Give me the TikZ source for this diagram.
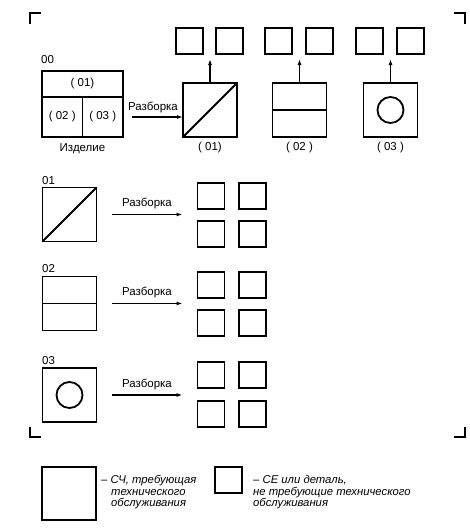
\documentclass[tikz,border=0pt]{standalone}
\usepackage{fontspec}
\setmainfont{Liberation Sans}
\usetikzlibrary{arrows.meta,positioning}

\tikzset{
  unit/.style={draw, line width=1.8pt, minimum size=54pt, inner sep=0pt, outer sep=0pt},
  part/.style={draw, line width=1.8pt, minimum width=27pt, minimum height=26pt, inner sep=0pt, outer sep=0pt},
  cell/.style={draw, line width=1.8pt, inner sep=0pt, outer sep=0pt, font=\fontsize{11.5}{13}\selectfont},
  txt/.style={font=\fontsize{11.5}{13}\selectfont, inner sep=0pt},
  note/.style={font=\itshape\fontsize{11.3}{11.5}\selectfont, inner sep=0pt, align=left, anchor=west},
  arr/.style={-{Latex[length=6pt,width=4pt]}, line width=1.2pt},
  crop/.style={line width=1.4pt}
}

\begin{document}
\begin{tikzpicture}[x=1pt, y=-1pt]
  \useasboundingbox (0,0) rectangle (469,530);

  % Crop marks
  \draw[crop] (30,24) -- (30,13) -- (41,13);
  \draw[crop] (454,13) -- (465,13) -- (465,24);
  \draw[crop] (30,427) -- (30,437) -- (41,437);
  \draw[crop] (454,437) -- (465,437) -- (465,427);

  % Product 00
  \node[txt, anchor=west] (n00) at (41,60) {00};
  \node[cell, minimum width=81pt, minimum height=26pt] (c01) at (82.5,84) {( 01)};
  \node[cell, minimum width=40.5pt, minimum height=40pt] (c02) at (62.25,117) {( 02 )};
  \node[cell, minimum width=40.5pt, minimum height=40pt] (c03) at (102.75,117) {( 03 )};
  \node[txt, below=6pt of c02.south east] (prod) {Изделие};

  % Units of the product
  \node[unit] (u01) at (210,110) {};
  \node[unit] (u02) at (299.5,110) {};
  \node[unit] (u03) at (390.5,110) {};
  \draw[line width=2pt] (u01.south west) -- (u01.north east);
  \draw[line width=1.8pt] (u02.west) -- (u02.east);
  \draw[line width=1.8pt] (u03.center) circle (13pt);
  \node[txt, below=5pt of u01] (l01) {( 01)};
  \node[txt, below=5pt of u02] (l02) {( 02 )};
  \node[txt, below=5pt of u03] (l03) {( 03 )};

  % Disassembly of the product
  \draw[arr, shorten <=9pt] (c03.east) -- (c03.east -| u01.west)
    node[txt, midway, above=4pt] {Разборка};

  % Parts above the units
  \node[part] (t1a) at (189.5,41) {};
  \node[part] (t1b) at (229.5,41) {};
  \node[part] (t2a) at (278.5,41) {};
  \node[part] (t2b) at (319.5,41) {};
  \node[part] (t3a) at (369.5,41) {};
  \node[part] (t3b) at (410.5,41) {};
  \draw[arr, shorten >=5pt] (u01.north) -- (u01.north |- t1a.south);
  \draw[arr, shorten >=5pt] (u02.north) -- (u02.north |- t2a.south);
  \draw[arr, shorten >=5pt] (u03.north) -- (u03.north |- t3a.south);

  % Disassembly of unit 01
  \node[txt, anchor=west] (n01) at (42,181) {01};
  \node[unit] (d01) at (69.5,214.5) {};
  \draw[line width=2pt] (d01.south west) -- (d01.north east);
  \node[part] (g1a) at (211,196) {};
  \node[part] (g1b) at (252.5,196) {};
  \node[part] (g1c) at (211,234) {};
  \node[part] (g1d) at (252.5,234) {};
  \draw[arr, shorten <=15pt, shorten >=15pt] (d01.east) -- (d01.east -| g1a.west)
    node[txt, midway, above=5pt] {Разборка};

  % Disassembly of unit 02
  \node[txt, anchor=west] (n02) at (42,269) {02};
  \node[unit] (d02) at (69.5,303.5) {};
  \draw[line width=1.8pt] (d02.west) -- (d02.east);
  \node[part] (g2a) at (211,285) {};
  \node[part] (g2b) at (252.5,285) {};
  \node[part] (g2c) at (211,323) {};
  \node[part] (g2d) at (252.5,323) {};
  \draw[arr, shorten <=15pt, shorten >=15pt] (d02.east) -- (d02.east -| g2a.west)
    node[txt, midway, above=5pt] {Разборка};

  % Disassembly of unit 03
  \node[txt, anchor=west] (n03) at (42,361) {03};
  \node[unit] (d03) at (69.5,395) {};
  \draw[line width=1.8pt] (d03.center) circle (13pt);
  \node[part] (g3a) at (211,375) {};
  \node[part] (g3b) at (252.5,375) {};
  \node[part] (g3c) at (211,414) {};
  \node[part] (g3d) at (252.5,414) {};
  \draw[arr, shorten <=15pt, shorten >=15pt] (d03.east) -- (d03.east -| g3a.west)
    node[txt, midway, above=5pt] {Разборка};

  % Legend
  \node[unit, minimum height=53pt] (keyunit) at (69,493.5) {};
  \node[note] (keyunittxt) at (101,492.5) {– СЧ, требующая\\\hspace*{10pt}технического\\\hspace*{10pt}обслуживания};
  \node[part] (keypart) at (228.5,480) {};
  \node[note] (keyparttxt) at (253,492.5) {– СЕ или деталь,\\не требующие технического\\обслуживания};
\end{tikzpicture}
\end{document}
